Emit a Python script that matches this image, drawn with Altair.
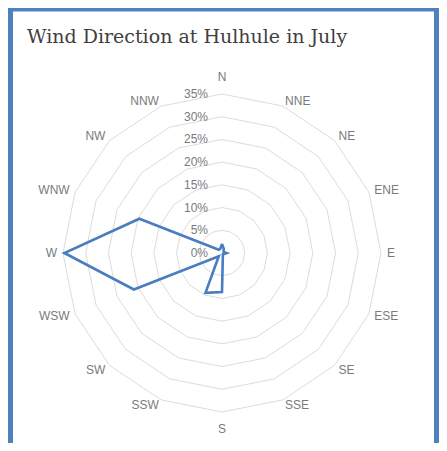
import math
import altair as alt
import pandas as pd

# ---- data ----
directions = ["N", "NNE", "NE", "ENE", "E", "ESE", "SE", "SSE",
              "S", "SSW", "SW", "WSW", "W", "WNW", "NW", "NNW"]
frequency = [2.0, 1.0, 0.5, 0.5, 1.0, 0.5, 0.3, 0.5,
             8.6, 9.5, 1.0, 21.0, 34.7, 19.7, 1.0, 1.0]
ring_levels = [5, 10, 15, 20, 25, 30, 35]
tick_values = [0, 5, 10, 15, 20, 25, 30, 35]
tick_labels = ["0%", "5%", "10%", "15%", "20%", "25%", "30%", "35%"]
title_text = "Wind Direction at Hulhule in July"

# ---- layout ----
W, H = 431, 435
k = 159 / 35.0          # pixels per percent
cx, cy = 214, 245       # centre of the radar in chart pixels
side_r = 36.3           # label anchor radius for side labels
pole_r = 38.7           # label radius for N / S

xs = alt.Scale(domain=[-cx / k, (W - cx) / k], nice=False, zero=False)
ys = alt.Scale(domain=[-(H - cy) / k, cy / k], nice=False, zero=False)

n = len(directions)

def ang(i):
    return math.radians(i * 360.0 / n)

# rings (closed polygons)
ring_rows = []
for lv in ring_levels:
    for j in range(n + 1):
        i = j % n
        ring_rows.append({"level": lv, "order": j,
                          "x": lv * math.sin(ang(i)), "y": lv * math.cos(ang(i))})
rings_df = pd.DataFrame(ring_rows)

# data polygon
data_rows = []
for j in range(n + 1):
    i = j % n
    v = frequency[i]
    data_rows.append({"dir": directions[i], "order": j,
                      "x": v * math.sin(ang(i)), "y": v * math.cos(ang(i))})
data_df = pd.DataFrame(data_rows)

# direction labels
lab_rows = []
for i, d in enumerate(directions):
    if i in (0, n // 2):
        side, r = "c", pole_r
    elif i < n // 2:
        side, r = "r", side_r
    else:
        side, r = "l", side_r
    lab_rows.append({"dir": d, "side": side,
                     "x": r * math.sin(ang(i)), "y": r * math.cos(ang(i))})
lab_df = pd.DataFrame(lab_rows)

tick_df = pd.DataFrame({"v": tick_values, "label": tick_labels, "x": [0] * len(tick_values)})

X = lambda: alt.X("x:Q", scale=xs, axis=None)
Y = lambda: alt.Y("y:Q", scale=ys, axis=None)

rings = alt.Chart(rings_df).mark_line(color="#dcdcdc", strokeWidth=1).encode(
    x=X(), y=Y(), detail="level:N", order="order:Q")

series = alt.Chart(data_df).mark_line(color="#4a7cc0", strokeWidth=2.6,
                                      strokeJoin="miter").encode(
    x=X(), y=Y(), order="order:Q")

def dir_layer(side, align):
    return alt.Chart(lab_df).transform_filter(
        alt.datum.side == side
    ).mark_text(font="Liberation Sans", fontSize=12, color="#7a7a7a",
                align=align, baseline="middle").encode(x=X(), y=Y(), text="dir:N")

dir_c = dir_layer("c", "center")
dir_r = dir_layer("r", "left")
dir_l = dir_layer("l", "right")

ticks = alt.Chart(tick_df).mark_text(
    font="Liberation Sans", fontSize=12, color="#7a7a7a",
    align="right", baseline="middle", dx=-14).encode(
    x=X(), y=alt.Y("v:Q", scale=ys, axis=None), text="label:N")

title = alt.Chart(pd.DataFrame({"t": [title_text]})).mark_text(
    font="DejaVu Serif", fontSize=19, color="#404040",
    align="left", baseline="alphabetic").encode(
    x=alt.value(19), y=alt.value(35), text="t:N")

frame = alt.Chart(pd.DataFrame({"a": [0]})).mark_rect(
    fill=None, stroke="#4f81bd", strokeWidth=5).encode(
    x=alt.value(2.5), x2=alt.value(W - 2.5), y=alt.value(1), y2=alt.value(H + 20))

chart = alt.layer(rings, series, ticks, dir_c, dir_r, dir_l, title, frame).properties(
    width=W, height=H, padding=0, autosize=alt.AutoSizeParams(type="none"),
    background="white"
).configure_view(stroke=None)

chart.save("out.html", embed_options={"renderer": "svg", "actions": False})
